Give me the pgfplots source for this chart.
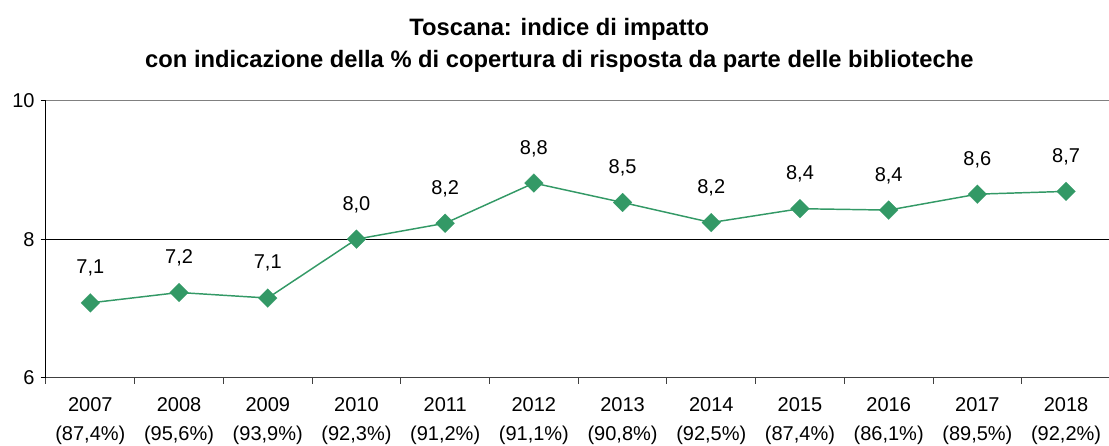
\documentclass[border=0pt]{standalone}
\usepackage{pgfplots}
\pgfplotsset{compat=1.18}
\usepackage{fontspec}
\setmainfont{Liberation Sans}
\definecolor{sgreen}{HTML}{339966}
\begin{document}
\begin{tikzpicture}
\begin{axis}[
  scale only axis,
  width=797.25pt, height=207.75pt,
  xmin=-0.5, xmax=11.484,
  ymin=6, ymax=10,
  ytick={6,8,10},
  extra y ticks={8},
  extra y tick labels={},
  extra y tick style={grid=major, major grid style={black, line width=0.75pt}, major tick length=0pt},
  axis x line*=bottom,
  axis y line*=left,
  x axis line style={black!75, line width=0.9pt, -},
  y axis line style={black, line width=0.75pt, -},
  xtick={0,...,11},
  xticklabels={{2007\\(87,4\%)},{2008\\(95,6\%)},{2009\\(93,9\%)},{2010\\(92,3\%)},{2011\\(91,2\%)},{2012\\(91,1\%)},{2013\\(90,8\%)},{2014\\(92,5\%)},{2015\\(87,4\%)},{2016\\(86,1\%)},{2017\\(89,5\%)},{2018\\(92,2\%)}},
  minor xtick={-0.5,0.5,...,11.5},
  tick align=outside,
  xtick style={draw=none},
  minor x tick style={draw=black!75, line width=0.75pt},
  minor tick length=4.5pt,
  ytick style={black, line width=0.75pt},
  major tick length=4pt,
  xticklabel style={font=\fontsize{15}{21.5}\selectfont, align=center, anchor=north, yshift=-7.5pt},
  yticklabel style={font=\fontsize{15}{18}\selectfont, xshift=-1pt},
  /pgf/number format/assume math mode=true,
  clip=false,
  nodes near coords,
  point meta=explicit symbolic,
  every node near coord/.style={font=\fontsize{15}{18}\selectfont, text=black, anchor=center, yshift=26pt},
]
\draw[black!50, line width=0.9pt] (rel axis cs:0,1) -- (rel axis cs:1,1);
\addplot[color=sgreen, line width=1.1pt, mark=square*, mark size=5pt, mark options={rotate=45, fill=sgreen, draw=sgreen, line width=0.1pt}]
  coordinates {
  (0,7.08) [7,1]
  (1,7.23) [7,2]
  (2,7.15) [7,1]
  (3,8.00) [8,0]
  (4,8.23) [8,2]
  (5,8.81) [8,8]
  (6,8.53) [8,5]
  (7,8.24) [8,2]
  (8,8.44) [8,4]
  (9,8.42) [8,4]
  (10,8.65) [8,6]
  (11,8.69) [8,7]
  };
\end{axis}
\node[font=\bfseries\fontsize{17.8}{24}\selectfont, anchor=base] at (385pt,256.5pt) {Toscana: indice di impatto};
\node[font=\bfseries\fontsize{17.8}{24}\selectfont, anchor=base] at (385pt,232.5pt) {con indicazione della \% di copertura di risposta da parte delle biblioteche};
\pgfresetboundingbox
\path (-34.5pt,-51.2pt) rectangle (797.25pt,283.25pt);
\end{tikzpicture}
\end{document}
